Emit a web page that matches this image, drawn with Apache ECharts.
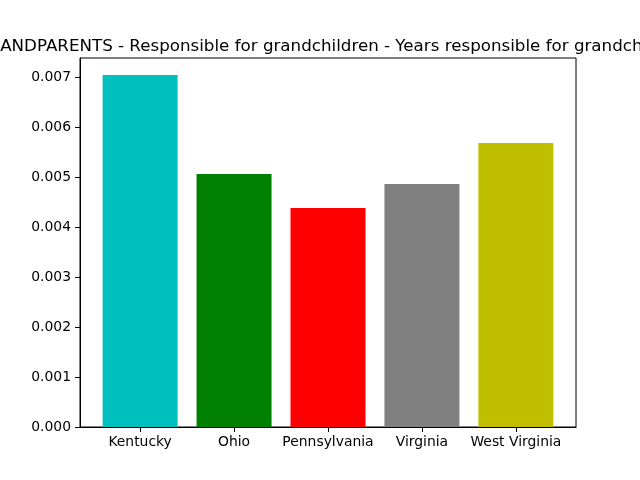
<!DOCTYPE html>
<html>
<head>
<meta charset="utf-8">
<script src="https://cdn.jsdelivr.net/npm/echarts@6/dist/echarts.min.js"></script>
<style>html,body{margin:0;padding:0;background:#fff;}#c{width:640px;height:480px;}</style>
</head>
<body>
<div id="c"></div>
<script>
var categories = ["Kentucky", "Ohio", "Pennsylvania", "Virginia", "West Virginia"];
var values = [0.00704, 0.00506, 0.00438, 0.00486, 0.00568];
var colors = ["#00bfbf", "#008000", "#ff0000", "#808080", "#bfbf00"];
var yTicks = [0, 0.001, 0.002, 0.003, 0.004, 0.005, 0.006, 0.007];
var titleText = "GRANDPARENTS - Responsible for grandchildren - Years responsible for grandchildren";

var chart = echarts.init(document.getElementById('c'), null, {renderer: 'canvas'});
var font = "DejaVu Sans";
var xPos = categories.map(function (c, i) { return i; });
chart.setOption({
  animation: false,
  backgroundColor: '#fff',
  title: {
    text: titleText,
    left: 328,
    textAlign: 'center',
    top: 33,
    textStyle: {fontFamily: font, fontSize: 16.7, fontWeight: 'normal', color: '#000'}
  },
  grid: {left: 80, right: 64, top: 58, bottom: 53, show: true, borderColor: '#000', borderWidth: 1, backgroundColor: 'transparent'},
  xAxis: {
    type: 'value', min: -0.64, max: 4.64,
    splitLine: {show: false},
    axisLine: {show: true, onZero: false, lineStyle: {color: '#000', width: 1}},
    axisTick: {show: true, length: 5, lineStyle: {color: '#000'}, customValues: xPos},
    axisLabel: {customValues: xPos, margin: 8, fontFamily: font, fontSize: 13.9, color: '#000',
      formatter: function (v) { return categories[Math.round(v)]; }}
  },
  yAxis: {
    type: 'value', min: 0, max: 0.00738,
    splitLine: {show: false},
    axisLine: {show: true, onZero: false, lineStyle: {color: '#000', width: 1}},
    axisTick: {show: true, length: 5, lineStyle: {color: '#000'}, customValues: yTicks},
    axisLabel: {customValues: yTicks, margin: 9, fontFamily: font, fontSize: 13.9, color: '#000',
      formatter: function (v) { return v.toFixed(3); }}
  },
  series: [{
    type: 'bar',
    barWidth: 75,
    data: values.map(function (v, i) { return {value: [i, v], itemStyle: {color: colors[i]}}; })
  }]
});
</script>
</body>
</html>
